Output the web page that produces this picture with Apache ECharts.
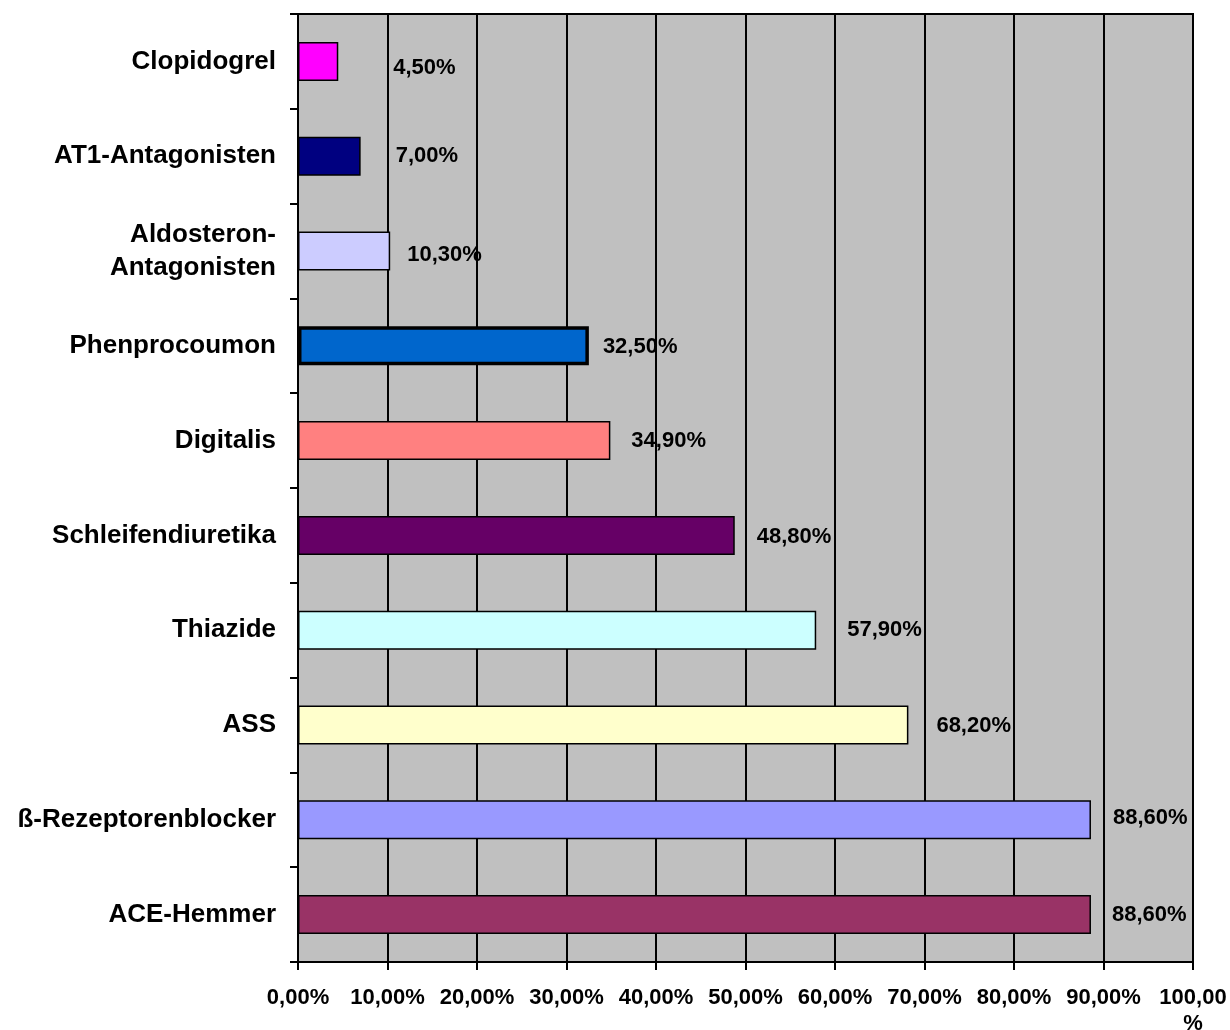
<!DOCTYPE html>
<html>
<head>
<meta charset="utf-8">
<script src="https://cdn.jsdelivr.net/npm/echarts@6/dist/echarts.min.js"></script>
<style>
  html, body { margin: 0; padding: 0; background: #ffffff; }
  #chart { width: 1230px; height: 1030px; }
</style>
</head>
<body>
<div id="chart"></div>
<script>
// Drug classes, listed top to bottom
const categories = [
  'Clopidogrel',
  'AT1-Antagonisten',
  'Aldosteron-\nAntagonisten',
  'Phenprocoumon',
  'Digitalis',
  'Schleifendiuretika',
  'Thiazide',
  'ASS',
  'ß-Rezeptorenblocker',
  'ACE-Hemmer'
];

// Share of patients (%)
const shares = [4.5, 7.0, 10.3, 32.5, 34.9, 48.8, 57.9, 68.2, 88.6, 88.6];

// Value axis ticks (%)
const tickValues = [0, 10, 20, 30, 40, 50, 60, 70, 80, 90, 100];

// Fill colour per bar
const barColors = [
  '#FF00FF', '#000080', '#CCCCFF', '#0066CC', '#FF8080',
  '#660066', '#CCFFFF', '#FFFFCC', '#9999FF', '#993366'
];

// Outline width per bar
const borderWidths = [1.5, 1.5, 1.5, 3.5, 1.5, 1.5, 1.5, 1.5, 1.5, 1.5];

// Value label placement next to each bar: [gap, vertical nudge]
const labelNudge = [
  [55, 7], [35, 0], [17, 4], [14, 1], [21, 0],
  [22, 2], [31, 0], [28, 1], [22, -2], [21, 0]
];

const fmtPct = v => v.toFixed(2).replace('.', ',') + '%';

const chart = echarts.init(document.getElementById('chart'), null, { renderer: 'canvas' });

chart.setOption({
  animation: false,
  textStyle: { fontFamily: '"Liberation Sans", Arial, sans-serif' },
  grid: {
    left: 298, top: 14, right: 37, bottom: 68,
    containLabel: false,
    outerBoundsMode: 'none',
    show: true,
    backgroundColor: '#C0C0C0',
    borderColor: '#000000',
    borderWidth: 2
  },
  xAxis: {
    type: 'value',
    min: tickValues[0],
    max: tickValues[tickValues.length - 1],
    interval: 10,
    axisLine: { show: true, lineStyle: { color: '#000', width: 2 } },
    axisTick: { show: true, inside: false, length: 8, lineStyle: { color: '#000', width: 2 } },
    splitLine: { show: true, lineStyle: { color: '#000', width: 2 } },
    axisLabel: {
      margin: 23,
      color: '#000',
      fontWeight: 'bold',
      fontSize: 22,
      lineHeight: 26,
      formatter: v => v === 100 ? '100,00\n%' : fmtPct(v)
    }
  },
  yAxis: {
    type: 'category',
    inverse: true,
    data: categories,
    axisLine: { show: true, lineStyle: { color: '#000', width: 2 } },
    axisTick: { show: true, inside: false, length: 8, lineStyle: { color: '#000', width: 2 } },
    splitLine: { show: false },
    axisLabel: {
      margin: 22,
      color: '#000',
      fontWeight: 'bold',
      fontSize: 26,
      lineHeight: 33,
      align: 'right'
    }
  },
  series: [{
    type: 'bar',
    barWidth: 39,
    data: shares.map((v, i) => ({
      value: v,
      itemStyle: {
        color: barColors[i],
        borderColor: '#000',
        borderWidth: borderWidths[i]
      },
      label: {
        show: true,
        position: 'right',
        distance: labelNudge[i][0],
        offset: [0, labelNudge[i][1]],
        formatter: p => fmtPct(p.value),
        color: '#000',
        fontWeight: 'bold',
        fontSize: 22
      }
    }))
  }]
});
</script>
</body>
</html>
